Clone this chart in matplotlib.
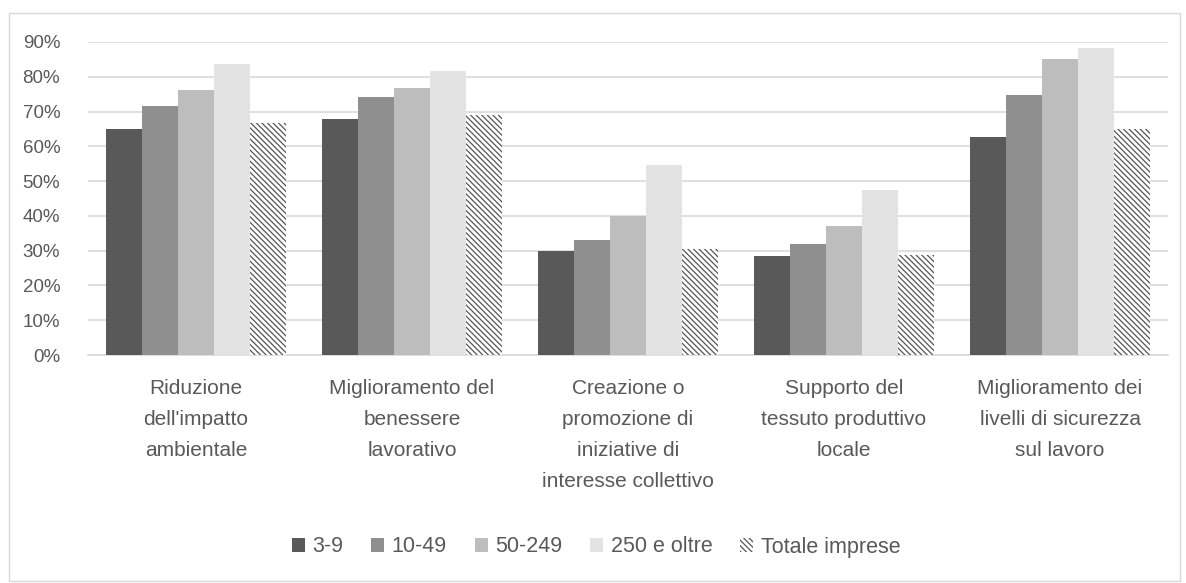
import matplotlib
matplotlib.use("Agg")
import matplotlib.pyplot as plt
import numpy as np
from matplotlib.patches import Rectangle

categories = ["Riduzione\ndell'impatto\nambientale",
              "Miglioramento del\nbenessere\nlavorativo",
              "Creazione o\npromozione di\niniziative di\ninteresse collettivo",
              "Supporto del\ntessuto produttivo\nlocale",
              "Miglioramento dei\nlivelli di sicurezza\nsul lavoro"]
series_names = ["3-9", "10-49", "50-249", "250 e oltre", "Totale imprese"]
v_3_9 = [65, 68, 30, 28.6, 62.8]
v_10_49 = [71.7, 74.2, 33, 31.8, 74.9]
v_50_249 = [76.1, 76.7, 40, 37, 85.1]
v_250 = [83.7, 81.8, 54.6, 47.5, 88.3]
v_tot = [66.6, 69.1, 30.5, 28.8, 65]
yticks = [0, 10, 20, 30, 40, 50, 60, 70, 80, 90]

series = [v_3_9, v_10_49, v_50_249, v_250, v_tot]
colors = ["#595959", "#8f8f8f", "#bdbdbd", "#e3e3e3", "white"]
txt = "#595959"

plt.rcParams['font.family'] = ['Liberation Sans', 'DejaVu Sans']
plt.rcParams['hatch.color'] = '#555555'
plt.rcParams['hatch.linewidth'] = 0.9

fig = plt.figure(figsize=(11.86, 5.83), dpi=100)
ax = fig.add_axes([88/1186, 1 - 355/583, (1168-88)/1186, (355-42)/583])

x = np.arange(len(categories))
w = 0.167
for i, (name, vals, c) in enumerate(zip(series_names, series, colors)):
    pos = x + (i - 2) * w
    if i == 4:
        ax.bar(pos, vals, w, color='white', hatch='\\' * 6, edgecolor='#555555',
               linewidth=0, label=name, zorder=3)
    else:
        ax.bar(pos, vals, w, color=c, label=name, zorder=3, linewidth=0)

ax.set_xlim(-0.5, len(categories) - 0.5)
ax.set_ylim(0, 90)
ax.set_yticks(yticks)
ax.set_yticklabels([f"{t}%" for t in yticks], color=txt, fontsize=13.5)
ax.yaxis.grid(True, color="#d9d9d9", linewidth=1.2, zorder=0)
ax.set_axisbelow(True)
for s in ["top", "right", "left"]:
    ax.spines[s].set_visible(False)
ax.spines["bottom"].set_color("#d9d9d9")
ax.spines["bottom"].set_linewidth(1.2)
ax.tick_params(axis='y', length=0, pad=20)
ax.tick_params(axis='x', length=0, pad=17)
ax.set_xticks(x)
ax.set_xticklabels(categories, color=txt, fontsize=15, linespacing=1.8)

leg = fig.legend(loc='center', bbox_to_anchor=(596/1186, 1 - 547/583), ncol=5,
                 frameon=False, fontsize=15.5, handlelength=0.6, handleheight=0.6,
                 handletextpad=0.35, columnspacing=1.3, labelcolor=txt)

fig.patches.append(Rectangle((9/1186, 2/583), 1171/1186, 568/583, transform=fig.transFigure,
                             fill=False, edgecolor="#d9d9d9", linewidth=1))

fig.savefig("out.png", dpi=100)
